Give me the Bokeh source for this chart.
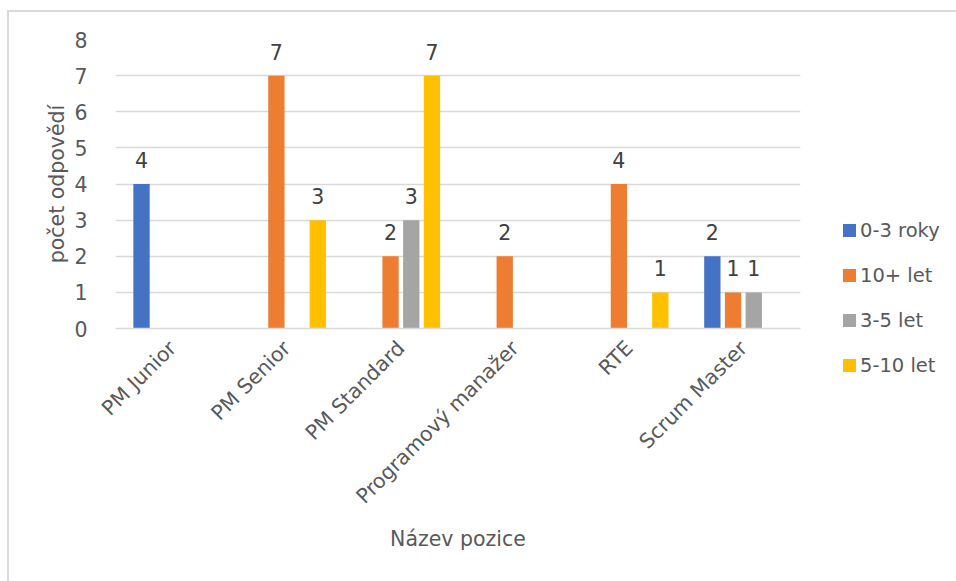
import math
from bokeh.plotting import figure
from bokeh.layouts import row
from bokeh.models import FactorRange, Range1d, FixedTicker, ColumnDataSource, Div
from bokeh.transform import dodge
from bokeh.core.properties import value
from bokeh.embed import file_html
from bokeh.resources import INLINE

categories = ["PM Junior", "PM Senior", "PM Standard", "Programový manažer", "RTE", "Scrum Master"]
series_names = ["0-3 roky", "10+ let", "3-5 let", "5-10 let"]
s_0_3 = [4, 0, 0, 0, 0, 2]
s_10p = [0, 7, 2, 2, 4, 1]
s_3_5 = [0, 0, 3, 0, 0, 1]
s_5_10 = [0, 3, 7, 0, 1, 0]
y_ticks = [0, 1, 2, 3, 4, 5, 6, 7, 8]

colors = ["#4472C4", "#ED7D31", "#A5A5A5", "#FFC000"]
FONT = "DejaVu Sans"
FS = "20.5px"
TXT = "#595959"

p = figure(x_range=FactorRange(*categories, range_padding=0), y_range=Range1d(0, 8),
           width=834, height=569, output_backend="svg", toolbar_location=None,
           min_border_left=106, min_border_right=43, min_border_top=27, min_border_bottom=253)
p.outline_line_color = None
p.xgrid.grid_line_color = None
p.ygrid.grid_line_color = "#D9D9D9"
p.ygrid.grid_line_width = 1.3
p.yaxis.ticker = FixedTicker(ticks=y_ticks)

for ax in (p.xaxis[0], p.yaxis[0]):
    ax.major_tick_line_color = None
    ax.minor_tick_line_color = None
    ax.major_label_text_font = FONT
    ax.major_label_text_font_size = FS
    ax.major_label_text_color = TXT
    ax.axis_label_text_font = FONT
    ax.axis_label_text_font_size = FS
    ax.axis_label_text_font_style = "normal"
    ax.axis_label_text_color = TXT

p.yaxis.axis_line_color = None
p.yaxis.major_label_standoff = 22
p.yaxis.axis_label = "počet odpovědí"
p.yaxis.axis_label_standoff = 2
p.xaxis.axis_line_color = "#D9D9D9"
p.xaxis.axis_line_width = 1.3
p.xaxis.major_label_orientation = math.pi / 4
p.xaxis.major_label_standoff = 10
p.xaxis.axis_label = "Název pozice"
p.xaxis.axis_label_standoff = 7

all_series = [s_0_3, s_10p, s_3_5, s_5_10]
step = 0.1814
width = 0.143

for i, (name, vals, col) in enumerate(zip(series_names, all_series, colors)):
    off = (i - 1.5) * step
    src = ColumnDataSource(dict(cat=categories, v=vals))
    p.vbar(x=dodge("cat", off, range=p.x_range), top="v", width=width, source=src,
           fill_color=col, line_color=None)
    lc = [c for c, v in zip(categories, vals) if v > 0]
    lv = [v for v in vals if v > 0]
    lsrc = ColumnDataSource(dict(cat=lc, v=lv, t=[str(v) for v in lv]))
    p.text(x=dodge("cat", off, range=p.x_range), y="v", text="t", source=lsrc,
           text_align="center", text_baseline="alphabetic", y_offset=-24,
           text_font=value(FONT), text_font_size=FS, text_color="#404040")

# legend as HTML, built from the series names and colours
rows_html = "".join(
    f'<div style="height:45px;line-height:45px;white-space:nowrap;">'
    f'<span style="display:inline-block;width:13px;height:13px;background:{c};'
    f'vertical-align:middle;margin-right:4px;"></span>'
    f'<span style="vertical-align:middle;">{n}</span></div>'
    for n, c in zip(series_names, colors))
legend_html = (f'<div style="margin-top:190px;margin-left:-5px;font-family:\'DejaVu Sans\';'
               f'font-size:19.5px;color:{TXT};">{rows_html}</div>')
leg = Div(text=legend_html, width=113, height=569)

layout = row(p, leg, spacing=0)
layout.margin = (10, 0, 0, 7)
layout.styles = {"border-left": "2px solid #D9D9D9", "border-top": "2px solid #D9D9D9"}

open("out.html", "w").write(file_html(layout, INLINE))
